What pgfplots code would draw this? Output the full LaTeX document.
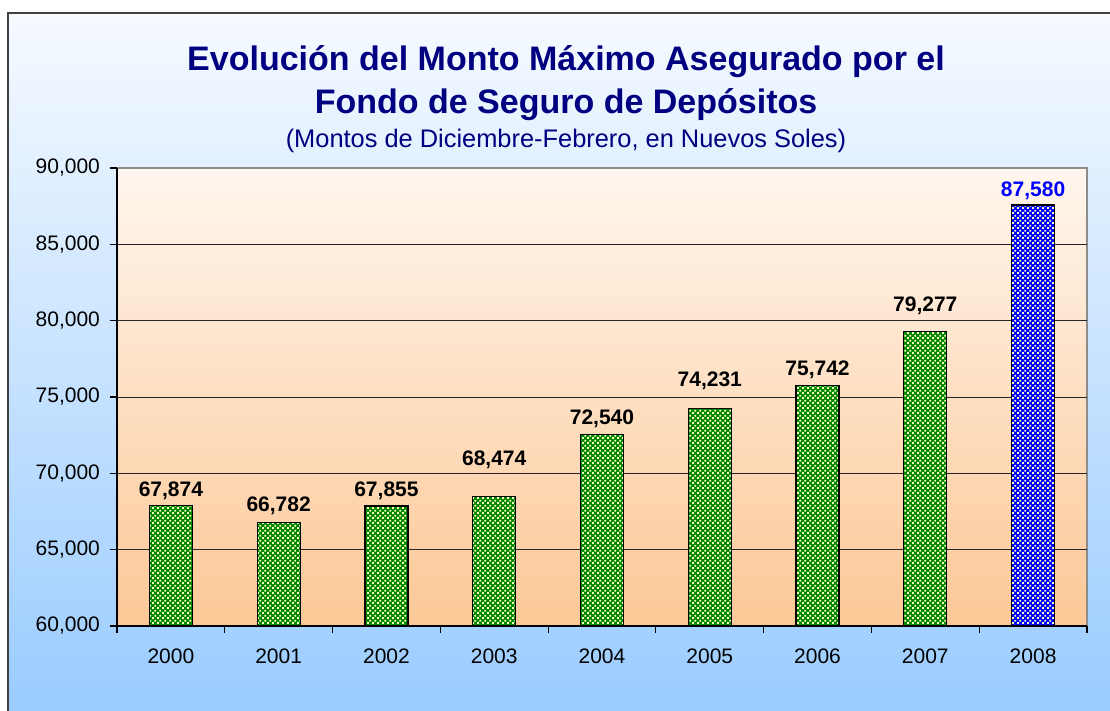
\documentclass[border=0pt]{standalone}
\usepackage{pgfplots}
\pgfplotsset{compat=1.18}
\usepackage{pgfplotstable}
\usepackage{fontspec}
\setmainfont{Liberation Sans}
\usetikzlibrary{patterns}
\pgfdeclarepatternformonly{finecheck}{\pgfqpoint{0pt}{0pt}}{\pgfqpoint{2.3pt}{2.3pt}}{\pgfqpoint{2.3pt}{2.3pt}}{%
 \pgfpathrectangle{\pgfqpoint{0.1pt}{0.1pt}}{\pgfqpoint{0.95pt}{0.95pt}}%
 \pgfpathrectangle{\pgfqpoint{1.25pt}{1.25pt}}{\pgfqpoint{0.95pt}{0.95pt}}%
 \pgfusepath{fill}}
\definecolor{navy}{RGB}{0,0,128}
\definecolor{bgtop}{RGB}{246,250,255}
\definecolor{bgbot}{RGB}{150,202,255}
\definecolor{pltop}{RGB}{255,246,238}
\definecolor{plbot}{RGB}{252,200,150}
\definecolor{bargreen}{RGB}{0,135,0}
\definecolor{barblue}{RGB}{0,0,255}
\definecolor{checklight}{RGB}{255,255,200}
\pgfplotstableread{
x y off
0 67874 -0.5
1 66782 0
2 67855 -0.5
3 68474 10.5
4 72540 0
5 74231 6
6 75742 0
7 79277 5
}\greendata
\pgfplotstableread{
x y off
8 87580 -1
}\bluedata
\begin{document}
\begin{tikzpicture}
\useasboundingbox (0pt,0pt) rectangle (555pt,-355.5pt);
\clip (0pt,0pt) rectangle (555pt,-355.5pt);
\fill[white] (0pt,0pt) rectangle (555pt,-355.5pt);
\draw[line width=1pt, draw=black!75, top color=bgtop, bottom color=bgbot] (4pt,-6.5pt) rectangle (570pt,-370pt);
\node[anchor=base, text=navy, font=\fontsize{17}{20}\selectfont\bfseries] at (283pt,-35.5pt) {Evolución del Monto Máximo Asegurado por el};
\node[anchor=base, text=navy, font=\fontsize{17}{20}\selectfont\bfseries] at (283pt,-57pt) {Fondo de Seguro de Depósitos};
\node[anchor=base, text=navy, font=\fontsize{12.7}{15}\selectfont] at (283pt,-74pt) {(Montos de Diciembre-Febrero, en Nuevos Soles)};
\begin{axis}[
  at={(58.5pt,-313pt)}, anchor=south west,
  width=485pt, height=229pt, scale only axis,
  xmin=-0.5, xmax=8.5, ymin=60000, ymax=90000,
  axis lines*=left, axis line style={-, black, line width=0.7pt},
  axis background/.style={top color=pltop, bottom color=plbot, draw=black!45, line width=0.6pt},
  /pgf/number format/assume math mode=true,
  /pgf/number format/1000 sep={,},
  scaled y ticks=false,
  tick align=outside,
  ytick={60000,65000,...,90000},
  extra y ticks={65000,70000,75000,80000,85000},
  extra y tick labels={},
  extra y tick style={grid=major, major tick length=0pt},
  major grid style={black!85, line width=0.5pt},
  major tick length=3.5pt,
  minor tick length=3.5pt,
  tick style={black, line width=0.6pt},
  xtick={0,1,2,3,4,5,6,7,8},
  xticklabels={2000,2001,2002,2003,2004,2005,2006,2007,2008},
  major x tick style={draw=none},
  minor xtick={-0.5,0.5,...,8.5},
  tick label style={font=\fontsize{10.5}{12}\selectfont, text=black},
  xticklabel style={yshift=-4.5pt},
  yticklabel style={xshift=-1.5pt},
  nodes near coords,
  visualization depends on={\thisrow{off}\as\myoff},
  every node near coord/.append style={font=\fontsize{10.5}{12}\selectfont\bfseries, anchor=south, yshift=\myoff pt},
]
\addplot[ybar, bar width=21.5pt, bar shift=0pt, draw=black, line width=0.6pt, fill=bargreen,
  postaction={pattern=finecheck, pattern color=checklight},
  every node near coord/.append style={text=black}]
  table[x=x, y=y] {\greendata};
\addplot[ybar, bar width=21.5pt, bar shift=0pt, draw=black, line width=0.6pt, fill=barblue,
  postaction={pattern=finecheck, pattern color=checklight},
  every node near coord/.append style={text=barblue}]
  table[x=x, y=y] {\bluedata};
\end{axis}
\end{tikzpicture}
\end{document}
